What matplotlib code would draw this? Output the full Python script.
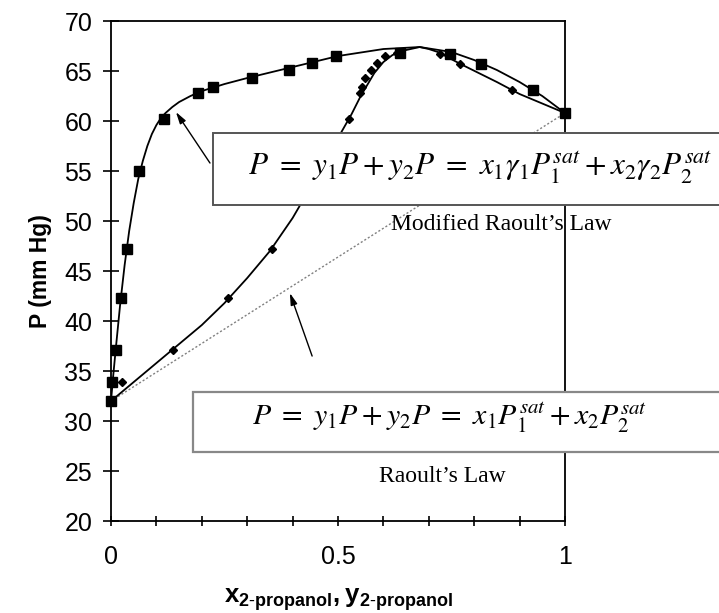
import matplotlib.pyplot as plt
from matplotlib.patches import Rectangle

# Experimental data: P (mm Hg), liquid x and vapour y of 2-propanol
P_exp = [32.0, 33.9, 37.1, 42.3, 47.2, 55.0, 60.2, 62.8, 63.4, 64.3, 65.1, 65.8, 66.5, 66.8, 66.7, 65.7, 63.1, 60.8]
x_exp = [0.0, 0.002, 0.010, 0.021, 0.035, 0.062, 0.116, 0.192, 0.225, 0.310, 0.392, 0.442, 0.495, 0.637, 0.747, 0.816, 0.930, 1.0]
y_exp = [0.0, 0.025, 0.136, 0.258, 0.354, 0.450, 0.525, 0.548, 0.553, 0.559, 0.572, 0.585, 0.604, 0.630, 0.725, 0.769, 0.883, 1.0]

# Modified Raoult's law curves
x_calc = [0.0, 0.005, 0.01, 0.02, 0.03, 0.04, 0.05, 0.06, 0.07, 0.08, 0.09, 0.1, 0.11, 0.12,
          0.135, 0.15, 0.175, 0.2, 0.25, 0.3, 0.4, 0.5, 0.6, 0.68, 0.75, 0.8, 0.85, 0.9, 0.95, 1.0]
P_bubble = [32.0, 34.6, 37.0, 41.6, 45.6, 49.0, 51.8, 54.2, 56.0, 57.5, 58.7, 59.6, 60.3, 60.8,
            61.4, 61.9, 62.5, 63.0, 63.7, 64.3, 65.4, 66.5, 67.2, 67.4, 66.9, 66.1, 65.1, 63.9, 62.5, 60.8]
y_calc = [0.0, 0.05, 0.1, 0.15, 0.2, 0.25, 0.3, 0.35, 0.4, 0.45, 0.5, 0.53, 0.55, 0.58, 0.6,
          0.62, 0.65, 0.68, 0.7, 0.72, 0.77, 0.85, 0.9, 1.0]
P_dew = [32.0, 33.9, 35.8, 37.7, 39.6, 41.8, 44.3, 47.0, 50.3, 54.2, 58.3, 60.7, 62.5, 64.8, 65.9,
         66.6, 67.1, 67.4, 67.2, 66.9, 65.7, 63.9, 62.7, 60.8]

# Raoult's law (ideal) line
x_ideal = [0.0, 1.0]
P_ideal = [32.0, 60.8]

plt.rcParams['mathtext.fontset'] = 'custom'
plt.rcParams['mathtext.rm'] = 'Liberation Sans'
plt.rcParams['mathtext.bf'] = 'Liberation Sans:bold'

fig = plt.figure(figsize=(7.19, 6.13), dpi=100)
ax = fig.add_axes([0.1544, 0.150, 0.6314, 0.8157])

ax.plot(x_ideal, P_ideal, color='gray', lw=1, ls=(0, (1.5, 1.5)))
ax.plot(x_calc, P_bubble, color='black', lw=1.3)
ax.plot(y_calc, P_dew, color='black', lw=1.3)
ax.plot(x_exp, P_exp, 's', color='black', ms=6.5, clip_on=False)
ax.plot(y_exp, P_exp, 'D', color='black', ms=3.8, clip_on=False)

ax.set_xlim(0, 1)
ax.set_ylim(20, 70)
ax.set_xticks([0, 0.5, 1])
ax.set_xticklabels(['0', '0.5', '1'])
ax.set_xticks([i / 10 for i in range(11)], minor=True)
ax.set_yticks(range(20, 71, 5))
for s in ax.spines.values():
    s.set_linewidth(1.3)
ax.tick_params(axis='y', direction='inout', length=11, width=1.2, labelsize=18, pad=8)
ax.tick_params(axis='x', which='both', direction='inout', length=7, width=1.2, labelsize=18, pad=14)
for lab in ax.get_xticklabels() + ax.get_yticklabels():
    lab.set_family('Liberation Sans')

ax.set_ylabel('P (mm Hg)', fontsize=16.5, fontweight='bold', family='Liberation Sans', labelpad=9)
ax.set_xlabel(r'$\mathbf{x_{2\text{-}propanol},y_{2\text{-}propanol}}$', fontsize=18.5, labelpad=12)

# equation boxes
fig.patches.append(Rectangle((213 / 719, 1 - 205 / 613), 0.75, 72 / 613, transform=fig.transFigure,
                             facecolor='white', edgecolor='#555555', lw=1.4, zorder=2))
fig.patches.append(Rectangle((193 / 719, 1 - 452 / 613), 0.78, 60 / 613, transform=fig.transFigure,
                             facecolor='white', edgecolor='#888888', lw=1.6, zorder=2))

fig.text(480 / 719, 1 - 168 / 613,
         r'$P\ =\ y_1P+y_2P\ =\ x_1\gamma_1P_1^{sat}+x_2\gamma_2P_2^{sat}$',
         math_fontfamily='stix', fontsize=22.5, ha='center', va='center', zorder=3)
fig.text(501 / 719, 1 - 224 / 613, "Modified Raoult’s Law", family='Liberation Serif',
         fontsize=17, ha='center', va='center', zorder=3)
fig.text(450 / 719, 1 - 418 / 613,
         r'$P\ =\ y_1P+y_2P\ =\ x_1P_1^{sat}+x_2P_2^{sat}$',
         math_fontfamily='stix', fontsize=21.5, ha='center', va='center', zorder=3)
fig.text(442 / 719, 1 - 476 / 613, "Raoult’s Law", family='Liberation Serif',
         fontsize=17, ha='center', va='center', zorder=3)

arrow = dict(arrowstyle='-|>,head_length=0.7,head_width=0.2', color='black', lw=1, shrinkA=0, shrinkB=0)
ax.annotate('', xy=(0.143, 60.9), xytext=(0.218, 55.8), arrowprops=arrow)
ax.annotate('', xy=(0.394, 42.8), xytext=(0.443, 36.5), arrowprops=arrow)

fig.savefig('out.png', dpi=100)
